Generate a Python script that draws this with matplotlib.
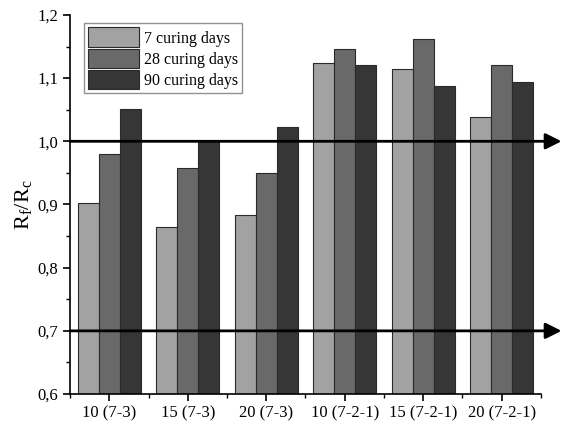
import matplotlib.pyplot as plt
import numpy as np
from matplotlib.ticker import MultipleLocator, FuncFormatter

plt.rcParams['font.family'] = ['Liberation Serif', 'DejaVu Serif']

groups = ['10 (7-3)', '15 (7-3)', '20 (7-3)', '10 (7-2-1)', '15 (7-2-1)', '20 (7-2-1)']
days7 = [0.903, 0.865, 0.883, 1.124, 1.114, 1.039]
days28 = [0.980, 0.958, 0.950, 1.146, 1.162, 1.120]
days90 = [1.051, 1.000, 1.023, 1.120, 1.088, 1.094]
labels = ['7 curing days', '28 curing days', '90 curing days']
colors = ['#a2a2a2', '#696969', '#363636']
limits = [1.0, 0.7]

fig = plt.figure(figsize=(5.61, 4.26), dpi=100)
ax = fig.add_axes([0.125, 0.075, 0.839, 0.89])

x = np.arange(len(groups))
w = 0.268
for i, (vals, lab, c) in enumerate(zip([days7, days28, days90], labels, colors)):
    ax.bar(x + (i - 1) * w, vals, w, color=c, edgecolor='#2a2a2a', linewidth=0.8, label=lab, zorder=2)

for yv in limits:
    ax.annotate('', xy=(1.044, yv), xytext=(0, yv), xycoords=ax.get_yaxis_transform(),
                arrowprops=dict(arrowstyle='-|>', lw=2, color='black', mutation_scale=24,
                                shrinkA=0, shrinkB=0),
                annotation_clip=False, zorder=5)

ax.set_xlim(-0.5, 5.5)
ax.set_ylim(0.6, 1.2)
ax.set_xticks(x)
ax.set_xticklabels(groups, fontsize=12)
ax.xaxis.set_minor_locator(MultipleLocator(1, offset=0.5))
ax.yaxis.set_major_locator(MultipleLocator(0.1))
ax.yaxis.set_minor_locator(MultipleLocator(0.05))
ax.yaxis.set_major_formatter(FuncFormatter(lambda v, p: f'{v:.1f}'.replace('.', ',')))
ax.tick_params(axis='y', labelsize=12)
ax.tick_params(which='major', direction='out', length=5, width=1.2)
ax.tick_params(which='minor', direction='out', length=3, width=1)
for s in ['top', 'right']:
    ax.spines[s].set_visible(False)
for s in ['left', 'bottom']:
    ax.spines[s].set_linewidth(1.2)

ax.set_ylabel('R$_\\mathregular{f}$/R$_\\mathregular{c}$', fontsize=16, labelpad=2)
leg = ax.legend(loc='upper left', bbox_to_anchor=(0.02, 0.99), fontsize=11.5, frameon=True,
                fancybox=False, edgecolor='#777777', handlelength=3.2, handleheight=1.5,
                handletextpad=0.3, borderpad=0.25, labelspacing=0.1, borderaxespad=0.3)
leg.get_frame().set_linewidth(1)

fig.savefig('out.png', dpi=100)
